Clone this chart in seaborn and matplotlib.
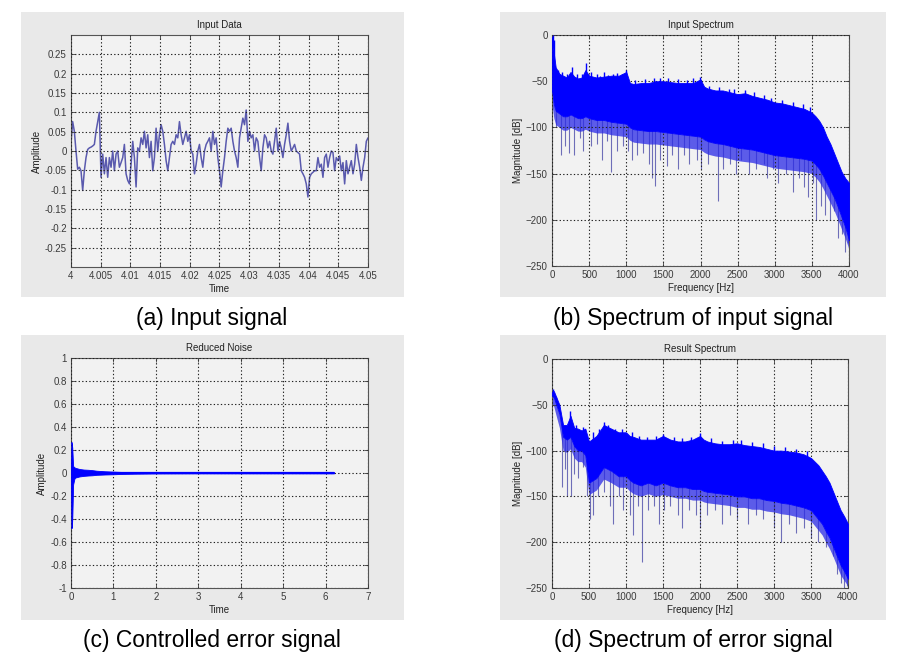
import numpy as np
import matplotlib
matplotlib.use("Agg")
import matplotlib.pyplot as plt
from matplotlib.patches import Rectangle
from matplotlib import font_manager
import seaborn as sns

# ---------------- data ----------------
# (a) Input data, time 4.00 .. 4.05 s
input_amp = [0.021, 0.076, 0.051, 0.000, -0.047, -0.042, -0.051, -0.102, -0.051, -0.017,
             0.004, 0.008, 0.010, 0.013, 0.017, 0.051, 0.076, 0.100, -0.068, -0.008,
             -0.059, -0.017, -0.068, -0.017, -0.042, 0.000, -0.051, -0.008, 0.000, -0.042,
             -0.030, -0.017, 0.017, -0.059, -0.076, -0.085, -0.034, 0.025, -0.017, -0.093,
             0.008, 0.000, 0.034, 0.017, 0.051, 0.008, 0.042, -0.017, 0.025, -0.051,
             -0.017, 0.059, 0.000, 0.042, 0.068, 0.051, 0.017, -0.025, -0.051, -0.017,
             0.017, 0.025, 0.017, 0.042, 0.034, 0.076, 0.042, 0.017, 0.034, 0.051,
             0.025, 0.042, 0.000, -0.008, -0.059, -0.034, 0.000, 0.017, -0.017, -0.042,
             0.000, 0.017, 0.025, 0.034, 0.000, 0.051, 0.017, 0.034, -0.017, -0.051,
             -0.093, -0.051, -0.017, 0.025, 0.059, 0.051, 0.059, 0.025, 0.000, -0.017,
             -0.042, 0.034, 0.059, 0.085, 0.068, 0.106, 0.025, 0.051, 0.034, 0.042,
             0.000, 0.034, 0.025, -0.017, -0.051, 0.008, 0.042, 0.034, 0.008, 0.025,
             0.000, -0.008, 0.025, 0.059, 0.000, 0.025, 0.008, -0.017, 0.017, 0.042,
             0.072, 0.025, 0.000, 0.008, 0.017, 0.000, -0.004, -0.008, -0.051, -0.059,
             -0.068, -0.085, -0.119, -0.068, -0.059, -0.055, -0.051, -0.051, -0.017, -0.042,
             -0.034, -0.068, -0.017, -0.008, -0.042, -0.017, 0.000, -0.004, -0.051, -0.017,
             -0.025, -0.013, -0.051, -0.030, -0.085, -0.025, -0.059, -0.042, -0.025, -0.059,
             -0.034, 0.017, -0.017, -0.042, -0.076, -0.042, -0.017, 0.025, 0.034]
input_time = np.linspace(4.0, 4.05, len(input_amp))

# Frequency grid shared by the spectrum envelopes [Hz]
freq_grid = [0, 25, 50, 100, 150, 200, 250, 300, 350, 400, 450, 500, 600, 700, 800, 900,
             1000, 1050, 1100, 1200, 1300, 1400, 1500, 1600, 1700, 1800, 1900, 2000, 2050,
             2100, 2200, 2300, 2400, 2500, 2600, 2700, 2800, 2900, 3000, 3100, 3200, 3300,
             3400, 3500, 3550, 3600, 3650, 3700, 3750, 3800, 3850, 3900, 3950, 4000]

# (b) Input spectrum [dB]
in_upper = [-2, -20, -35, -42, -44, -46, -40, -45, -47, -46, -38, -44, -46, -45, -44, -44,
            -40, -52, -53, -52, -52, -50, -50, -51, -52, -52, -52, -48, -56,
            -58, -60, -60, -62, -64, -63, -66, -68, -70, -73, -74, -76, -78,
            -80, -84, -88, -93, -100, -110, -118, -128, -138, -148, -155, -160]
in_lower = [-60, -75, -82, -85, -88, -88, -86, -88, -90, -90, -88, -90, -92, -92, -94, -95,
            -96, -100, -102, -103, -104, -104, -105, -106, -107, -108, -109, -110, -113,
            -115, -117, -118, -120, -122, -123, -124, -126, -128, -130, -131, -132, -133,
            -134, -136, -140, -145, -152, -160, -168, -176, -186, -197, -208, -222]
in_fringe = [-75, -90, -97, -100, -103, -103, -100, -102, -104, -104, -102, -104, -106, -106,
             -108, -109, -110, -114, -116, -117, -118, -118, -119, -120, -121, -122, -123,
             -124, -127, -129, -131, -132, -134, -136, -137, -138, -140, -142, -144, -145,
             -146, -147, -148, -150, -154, -159, -166, -174, -182, -190, -200, -210, -220, -232]
in_spike_f = [50, 120, 170, 230, 300, 380, 420, 520, 600, 680, 740, 800, 880, 950, 1030,
              1080, 1150, 1230, 1300, 1350, 1390, 1450, 1550, 1620, 1700, 1780, 1850, 1950,
              2000, 2100, 2230, 2300, 2400, 2480, 2550, 2650, 2750, 2850, 2900, 2980, 3050,
              3150, 3250, 3320, 3400, 3450, 3520, 3560, 3620, 3680, 3750, 3800, 3850, 3900,
              3950, 3980]
in_spike_db = [-100, -130, -120, -128, -130, -112, -125, -120, -118, -135, -115, -148, -125,
               -120, -125, -135, -130, -128, -140, -155, -163, -135, -142, -130, -145, -130,
               -140, -135, -145, -140, -180, -145, -140, -150, -135, -150, -145, -140, -155,
               -145, -160, -150, -170, -155, -165, -175, -160, -200, -185, -195, -200, -190,
               -220, -215, -235, -225]
in_peak_f = [10, 30, 80, 140, 200, 270, 330, 400, 460, 530, 600, 650, 700, 760, 820, 880,
             940, 1000, 1120, 1250, 1380, 1450, 1560, 1700, 1820, 1900, 1990, 2120, 2250,
             2380, 2450, 2600, 2720, 2850, 2950, 3100, 3250, 3380, 3480]
in_peak_db = [0, -5, -38, -40, -42, -35, -42, -42, -30, -40, -42, -44, -40, -43, -42, -41,
              -42, -38, -49, -48, -47, -46, -47, -48, -49, -47, -45, -55, -56,
              -58, -58, -60, -62, -65, -68, -70, -72, -75, -78]

# (c) Reduced noise envelope
noise_t = [0, 0.01, 0.02, 0.03, 0.05, 0.08, 0.1, 0.15, 0.2, 0.3, 0.4, 0.5, 0.6, 0.8,
           1.0, 1.2, 1.5, 2.0, 3.0, 4.0, 5.0, 6.0, 6.2]
noise_upper = [0.0, 0.27, 0.25, 0.22, 0.06, 0.05, 0.045, 0.04, 0.035, 0.03, 0.028, 0.025,
               0.02, 0.015, 0.012, 0.009, 0.006, 0.004, 0.003, 0.003, 0.003, 0.003, 0.003]
noise_lower = [0.0, -0.48, -0.47, -0.40, -0.10, -0.05, -0.04, -0.035, -0.03, -0.025, -0.022,
               -0.02, -0.016, -0.013, -0.011, -0.008, -0.006, -0.004, -0.003, -0.003, -0.003,
               -0.003, -0.003]

# (d) Result spectrum [dB]
res_upper = [-36, -35, -40, -50, -72, -72, -62, -75, -76, -78, -76, -90, -84, -72, -76, -80,
             -80, -84, -85, -88, -88, -88, -84, -88, -90, -90, -88, -84, -88,
             -90, -92, -93, -93, -92, -94, -95, -96, -98, -100, -100, -101, -102,
             -104, -108, -112, -116, -122, -128, -135, -145, -155, -165, -172, -180]
res_lower = [-40, -42, -48, -60, -85, -88, -85, -95, -100, -100, -105, -135, -130, -118, -122,
             -128, -128, -132, -135, -138, -135, -138, -135, -138, -140, -140, -142, -142,
             -144, -145, -146, -147, -148, -150, -150, -152, -152, -154, -155, -157, -158,
             -160, -162, -165, -170, -175, -180, -188, -195, -205, -215, -225, -232, -240]
res_fringe = [-48, -52, -60, -75, -100, -102, -98, -108, -112, -112, -118, -148, -143, -131,
              -135, -140, -140, -144, -147, -150, -147, -150, -148, -150, -152, -152, -154,
              -154, -156, -157, -158, -159, -160, -162, -162, -164, -164, -166, -167, -169,
              -170, -172, -174, -177, -182, -187, -192, -200, -207, -216, -226, -236, -242, -248]
res_spike_f = [130, 170, 200, 260, 300, 350, 420, 470, 510, 560, 620, 700, 780, 820, 900, 960,
               1050, 1100, 1160, 1220, 1300, 1380, 1450, 1520, 1600, 1700, 1760, 1850, 1950,
               2000, 2100, 2200, 2300, 2400, 2500, 2650, 2750, 2850, 3000, 3100, 3200, 3300,
               3400, 3500, 3600, 3700, 3800, 3850, 3900, 3950, 3990]
res_spike_db = [-140, -120, -150, -150, -125, -130, -118, -150, -175, -170, -150, -145, -160,
                -180, -150, -165, -170, -192, -160, -222, -165, -160, -180, -165, -160, -170,
                -185, -165, -170, -185, -170, -165, -180, -170, -175, -180, -170, -175, -185,
                -200, -180, -190, -185, -195, -200, -205, -215, -235, -245, -250, -248]
res_peak_f = [20, 60, 240, 330, 420, 560, 640, 700, 760, 850, 950, 1080, 1180, 1280, 1400,
              1500, 1650, 1750, 1880, 2000, 2150, 2300, 2450, 2550, 2700, 2850, 3000, 3150,
              3300, 3450]
res_peak_db = [-33, -42, -57, -72, -74, -80, -76, -69, -72, -76, -76, -80, -84, -85, -84,
               -82, -85, -86, -85, -81, -86, -89, -88, -88, -91, -92, -95, -96, -98, -100]

captions = ["(a) Input signal", "(b) Spectrum of input signal",
            "(c) Controlled error signal", "(d) Spectrum of error signal"]
titles = ["Input Data", "Input Spectrum", "Reduced Noise", "Result Spectrum"]

# ---------------- styling ----------------
sns.set_theme(style="white")
plt.rcParams['font.family'] = ['Liberation Sans', 'DejaVu Sans']
names = {f.name for f in font_manager.fontManager.ttflist}
cap_font = 'Liberation Sans Narrow' if 'Liberation Sans Narrow' in names else 'Liberation Sans'

W, H = 915, 666
fig = plt.figure(figsize=(W / 100, H / 100), dpi=100)
fig.patch.set_facecolor("white")

box_col = "#E9E9E9"
ax_col = "#F2F2F2"
tick_col = "#3A3A3A"
line_col = "#5A5AAE"
blue = "#0000FF"
fringe = "#6E6EB8"
fringe_fill = "#2A2AE6"

def px_rect(x0, y0, x1, y1):
    return [x0 / W, 1 - y1 / H, (x1 - x0) / W, (y1 - y0) / H]

# gray boxes (behind axes)
for (x0, y0, x1, y1) in [(21, 12, 404, 297), (500, 12, 886, 297),
                         (21, 335, 404, 620), (500, 335, 886, 620)]:
    fig.patches.append(Rectangle((x0 / W, 1 - y1 / H), (x1 - x0) / W, (y1 - y0) / H,
                                 transform=fig.transFigure, facecolor=box_col,
                                 edgecolor="none", zorder=-10))

ax_a = fig.add_axes(px_rect(71, 35, 368, 267))
ax_b = fig.add_axes(px_rect(552, 35, 849, 266))
ax_c = fig.add_axes(px_rect(71, 358, 368, 588))
ax_d = fig.add_axes(px_rect(552, 359, 848, 588))
for ax in (ax_a, ax_b, ax_c, ax_d):
    ax.set_zorder(5)

def style(ax, title, xlabel, ylabel):
    ax.set_facecolor(ax_col)
    for s in ax.spines.values():
        s.set_color("#555555")
        s.set_linewidth(0.8)
    ax.tick_params(direction="in", length=3, width=0.6, labelsize=7,
                   colors=tick_col, pad=3, top=True, right=True,
                   labeltop=False, labelright=False, bottom=True, left=True)
    ax.grid(True, linestyle=(0, (1.2, 2.0)), color="#222222", linewidth=0.8)
    ax.set_axisbelow(False)
    ax.set_title(title, fontsize=7, color="#222222", pad=5)
    ax.set_xlabel(xlabel, fontsize=7, color="#222222", labelpad=2)
    ax.set_ylabel(ylabel, fontsize=7, color="#222222", labelpad=2)

# (a)
sns.lineplot(x=input_time, y=input_amp, ax=ax_a, color=line_col, linewidth=1.1)
ax_a.set_xlim(4.0, 4.05)
ax_a.set_ylim(-0.3, 0.3)
ax_a.set_xticks(np.arange(4.0, 4.0501, 0.005))
ax_a.set_xticklabels(["4", "4.005", "4.01", "4.015", "4.02", "4.025", "4.03",
                      "4.035", "4.04", "4.045", "4.05"])
ax_a.set_yticks(np.arange(-0.25, 0.2501, 0.05))
ax_a.set_yticklabels(["-0.25", "-0.2", "-0.15", "-0.1", "-0.05", "0", "0.05",
                      "0.1", "0.15", "0.2", "0.25"])
style(ax_a, titles[0], "Time", "Amplitude")

def spectrum(ax, up, lo, fr, sf, sd, pf, pd):
    f = np.array(freq_grid, dtype=float)
    tops = np.interp(sf, f, lo)
    ax.vlines(sf, sd, tops + 5, color=fringe, linewidth=0.8, zorder=2)
    ax.fill_between(f, fr, lo, color=fringe_fill, linewidth=0, alpha=0.75, zorder=2.2)
    ax.fill_between(f, lo, up, color=blue, linewidth=0.6, edgecolor=blue, zorder=3)
    bases = np.interp(pf, f, up)
    ax.vlines(pf, bases - 5, pd, color=blue, linewidth=1.0, zorder=3)
    ax.set_xlim(0, 4000)
    ax.set_ylim(-250, 0)
    ax.set_xticks(np.arange(0, 4001, 500))
    ax.set_yticks(np.arange(-250, 1, 50))

spectrum(ax_b, in_upper, in_lower, in_fringe, in_spike_f, in_spike_db, in_peak_f, in_peak_db)
style(ax_b, titles[1], "Frequency [Hz]", "Magnitude [dB]")

# (c)
ax_c.fill_between(noise_t, noise_lower, noise_upper, color=blue, linewidth=0.6,
                  edgecolor=blue, zorder=3)
sns.lineplot(x=[noise_t[0], noise_t[-1]], y=[0, 0], ax=ax_c, color=blue,
             linewidth=1.6, zorder=3)
ax_c.set_xlim(0, 7)
ax_c.set_ylim(-1, 1)
ax_c.set_xticks(np.arange(0, 8, 1))
ax_c.set_yticks(np.round(np.arange(-1, 1.01, 0.2), 1))
ax_c.set_yticklabels(["-1", "-0.8", "-0.6", "-0.4", "-0.2", "0", "0.2", "0.4",
                      "0.6", "0.8", "1"])
style(ax_c, titles[2], "Time", "Amplitude")

spectrum(ax_d, res_upper, res_lower, res_fringe, res_spike_f, res_spike_db,
         res_peak_f, res_peak_db)
style(ax_d, titles[3], "Frequency [Hz]", "Magnitude [dB]")

# captions
for (cx, cy), txt in zip([(212, 319), (693, 319), (212, 641), (693, 641)], captions):
    fig.text(cx / W, 1 - cy / H, txt, ha="center", va="center", fontsize=16.5,
             family=[cap_font, 'DejaVu Sans'], color="black")

fig.savefig("out.png", dpi=100, facecolor="white")
